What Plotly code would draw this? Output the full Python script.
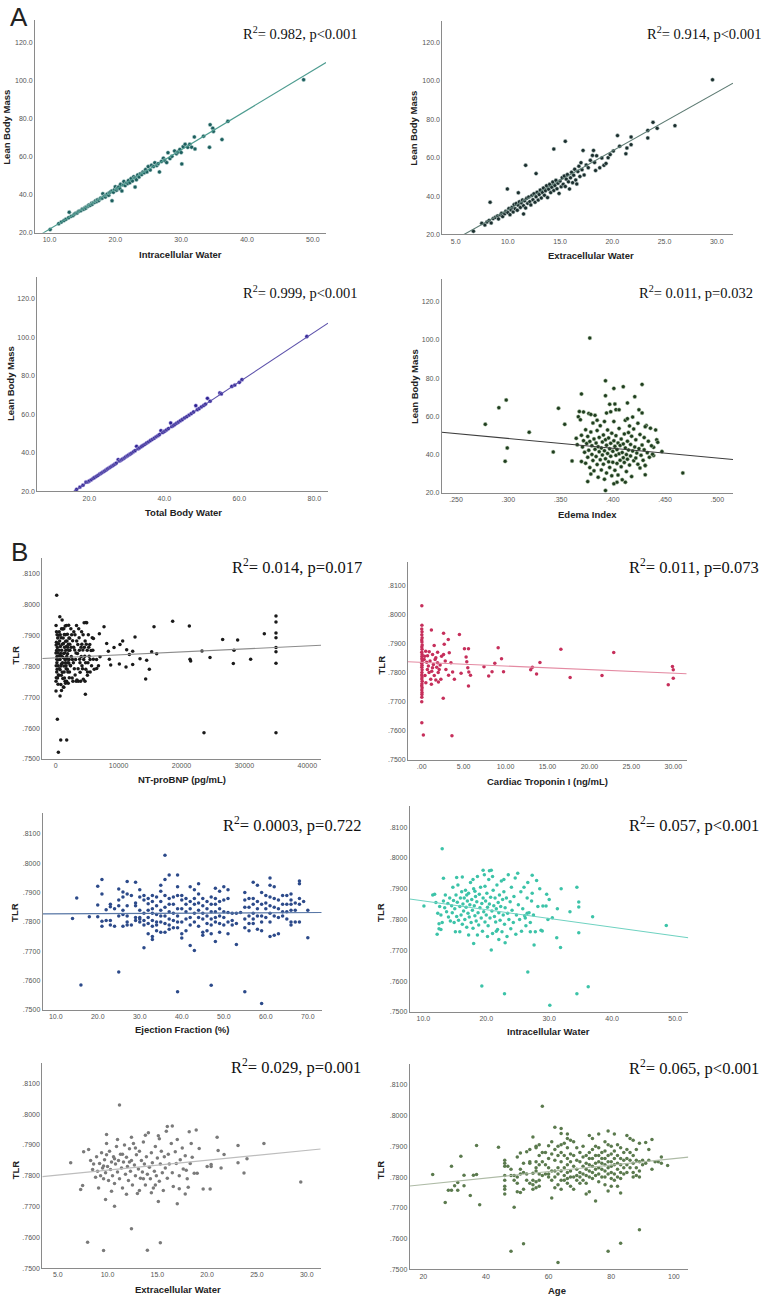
import numpy as np
import plotly.graph_objects as go

W, H = 767, 1301

# ---------------- DATA ----------------
# Panel A1: Intracellular Water vs Lean Body Mass
a1_pts = [(10.1,21.7),(11.4,24.8),(11.8,25.6),(12.2,26.4),(12.5,27.1),(12.9,27.9),(13.0,30.8),(13.3,28.7),(13.6,29.1),(13.8,29.8),
          (14.0,30.3),(14.2,30.4),(14.4,31.2),(14.6,31.5),(14.8,31.7),(15.0,32.5),(15.2,32.4),(15.4,33.3),(15.5,32.9),(15.7,33.8),
          (15.9,34.0),(16.0,34.6),(16.2,34.4),(16.4,35.5),(16.5,35.0),(16.7,35.9),(16.9,36.0),(17.0,36.8),(17.2,36.5),(17.3,37.4),
          (17.5,37.0),(17.7,37.9),(17.8,38.3),(18.0,38.2),(18.1,40.5),(18.3,39.1),(18.5,38.8),(18.6,39.9),(18.8,40.4),(19.0,39.7),
          (19.1,41.0),(19.3,41.5),(19.5,36.8),(19.5,42.0),(19.7,41.3),(19.9,42.8),(20.0,44.2),(20.2,42.4),(20.3,43.4),(20.5,44.0),
          (20.7,43.1),(20.8,45.5),(21.0,42.0),(21.2,45.1),(21.3,47.0),(21.5,44.8),(21.7,46.2),(21.9,45.9),(22.0,47.5),(22.2,46.3),
          (22.4,48.5),(22.6,47.2),(22.8,49.5),(23.0,44.0),(23.0,48.8),(23.2,47.9),(23.4,50.4),(23.6,49.3),(23.8,51.0),(24.0,50.6),
          (24.2,52.0),(24.4,51.5),(24.6,53.2),(24.8,52.0),(25.0,54.8),(25.3,53.0),(25.5,55.5),(25.8,54.8),(26.0,56.8),(26.3,55.4),
          (26.5,56.3),(26.7,52.0),(27.0,57.5),(27.3,59.2),(27.5,58.0),(27.8,56.9),(28.0,62.1),(28.3,59.0),(28.6,60.2),(29.0,63.0),
          (29.3,61.5),(29.5,62.4),(29.8,63.8),(30.0,62.2),(30.1,56.2),(30.3,65.2),(30.6,66.6),(31.0,64.9),(31.3,66.5),(31.6,65.0),
          (32.0,70.4),(32.1,64.1),(33.4,70.8),(34.3,64.9),(34.4,76.8),(34.8,75.0),(34.9,73.3),(36.2,69.0),(37.1,78.6),(48.6,100.5)]
a1_fit = (1.02, 2.086)   # intercept, slope

# Panel A2: Extracellular Water vs Lean Body Mass
a2_pts = [(6.7,21.7),(7.5,25.8),(7.8,24.9),(8.0,26.5),(8.2,27.3),(8.3,36.8),(8.4,26.0),(8.6,28.3),(8.8,28.9),(9.0,29.6),
          (9.1,28.1),(9.3,30.2),(9.4,31.0),(9.5,29.3),(9.7,30.8),(9.8,32.1),(9.95,43.7),(10.0,31.4),(10.1,33.5),(10.2,30.3),
          (10.3,32.8),(10.4,34.2),(10.5,31.7),(10.6,35.6),(10.7,33.4),(10.8,36.1),(10.9,32.6),(11.0,41.7),(11.0,35.2),(11.1,37.0),
          (11.2,34.1),(11.3,36.4),(11.4,38.0),(11.5,30.7),(11.5,35.0),(11.6,37.5),(11.7,56.0),(11.7,33.8),(11.8,38.8),(11.9,36.2),
          (12.0,39.5),(12.1,37.1),(12.2,35.4),(12.3,40.3),(12.4,38.1),(12.5,41.2),(12.6,36.8),(12.7,51.7),(12.7,39.6),(12.8,42.0),
          (12.9,37.9),(13.0,40.8),(13.1,43.1),(13.2,39.0),(13.3,41.9),(13.4,44.2),(13.5,40.4),(13.6,42.8),(13.7,45.4),(13.8,39.2),
          (13.9,43.6),(14.0,46.1),(14.1,41.8),(14.2,44.6),(14.3,47.3),(14.4,64.5),(14.4,42.9),(14.5,45.5),(14.6,48.2),(14.7,43.8),
          (14.8,46.7),(14.9,41.4),(15.0,47.8),(15.1,44.8),(15.2,49.6),(15.3,46.2),(15.4,50.5),(15.5,68.5),(15.5,45.0),(15.6,48.8),
          (15.7,51.2),(15.8,47.4),(15.9,43.7),(16.0,49.5),(16.1,52.4),(16.2,47.0),(16.3,50.9),(16.4,54.0),(16.5,48.4),(16.6,46.3),
          (16.7,52.8),(16.8,55.6),(16.9,50.2),(17.0,57.4),(17.1,53.7),(17.2,63.8),(17.3,51.0),(17.5,56.2),(17.7,54.8),(17.9,58.6),
          (18.1,61.2),(18.2,63.8),(18.3,57.5),(18.4,53.3),(18.5,61.0),(18.8,54.7),(19.0,59.8),(19.2,56.0),(19.4,57.0),(19.6,60.0),
          (19.8,61.6),(20.1,63.5),(20.5,71.5),(20.7,66.0),(21.3,62.0),(21.4,65.0),(21.8,70.8),(21.8,66.8),(23.4,70.3),(23.4,74.2),
          (23.9,78.4),(24.3,75.3),(26.0,76.7),(29.6,100.6)]
a2_fit = (2.25, 3.06)

# Panel A3: Total Body Water vs Lean Body Mass
a3_pts = [(16.6,20.9),(17.5,22.1),(18.3,23.1),(19.1,24.7),(19.6,24.8),(20.0,25.3),(20.5,25.9),(21.0,26.6),(21.4,27.1),(21.9,27.7),
          (22.3,28.2),(22.8,28.9),(23.2,29.4),(23.6,29.9),(24.0,30.4),(24.4,30.9),(24.8,31.5),(25.2,32.0),(25.6,32.5),(26.0,33.0),
          (26.4,33.5),(26.8,34.0),(27.2,34.6),(27.7,36.4),(28.1,35.7),(28.5,36.2),(28.9,36.7),(29.3,37.2),(29.7,37.8),(30.1,38.3),
          (30.5,38.8),(30.9,39.3),(31.3,39.8),(31.8,40.5),(32.2,41.0),(32.6,43.3),(33.0,42.0),(33.4,42.5),(33.9,43.2),(34.3,43.7),
          (34.8,44.3),(35.3,45.0),(35.8,45.6),(36.3,46.3),(36.8,46.9),(37.3,47.5),(37.8,48.2),(38.3,48.8),(38.7,49.4),(39.1,51.4),
          (39.6,50.5),(40.1,51.1),(40.6,51.8),(41.1,52.5),(41.7,55.4),(42.0,53.6),(42.4,54.1),(42.8,54.6),(43.3,55.3),(43.8,55.9),
          (44.3,56.6),(44.8,57.2),(45.4,58.0),(46.0,58.7),(46.6,59.5),(47.2,60.3),(47.8,61.1),(48.4,64.4),(48.8,62.3),(49.3,62.9),
          (49.9,63.8),(50.5,64.5),(51.0,65.2),(51.5,68.2),(52.2,66.7),(54.8,71.0),(55.2,70.5),(58.0,74.4),(58.8,75.1),(60.0,76.5),
          (60.7,77.9),(78.0,100.3)]
a3_fit = (-0.46, 1.287)

# Panel A4: Edema Index vs Lean Body Mass
a4_pts = [(.278,55.8),(.291,64.5),(.298,68.5),(.297,36.5),(.299,43.5),(.320,51.7),(.343,41.4),(.348,64.2),(.354,55.8),(.361,36.7),
          (.370,71.7),(.378,100.9),(.393,78.6),(.393,21.2),(.376,25.9),(.401,74.6),(.410,75.5),(.421,70.3),(.428,76.7),(.414,67.0),
          (.393,70.8),(.397,66.3),(.403,63.5),(.402,66.4),(.394,61.7),(.447,41.6),(.467,30.4),(.441,52.9),(.442,47.7),(.443,46.4),
          (.439,43.8),(.439,39.5),(.431,34.3),(.431,29.4),(.404,25.6),(.412,25.6),(.401,24.7),
          (.365,48.5),(.366,45.2),(.367,59.8),(.368,62.5),(.369,58.2),(.370,50.1),(.370,36.4),(.371,44.0),(.372,47.3),(.373,41.2),
          (.374,53.0),(.374,35.5),(.375,45.8),(.376,49.5),(.376,38.6),(.377,42.3),(.377,61.5),(.378,46.9),(.378,33.2),(.379,51.8),
          (.379,29.8),(.380,40.1),(.380,44.6),(.381,36.9),(.381,56.5),(.382,48.2),(.382,31.5),(.383,42.8),(.383,60.5),(.384,39.0),
          (.384,46.0),(.385,34.8),(.385,52.6),(.386,44.1),(.386,28.2),(.387,41.5),(.387,49.0),(.388,37.3),(.388,55.1),(.389,43.4),
          (.389,32.0),(.390,46.6),(.390,39.8),(.391,50.3),(.391,35.0),(.392,42.0),(.392,27.1),(.393,47.8),(.393,37.8),(.394,44.9),
          (.394,30.4),(.395,40.6),(.395,52.9),(.396,36.2),(.396,48.7),(.397,43.0),(.397,33.3),(.398,45.9),(.398,39.1),(.399,51.2),
          (.399,28.9),(.400,41.7),(.400,36.0),(.401,47.2),(.401,57.3),(.402,44.3),(.402,31.8),(.403,39.6),(.403,49.9),(.404,42.6),
          (.404,35.4),(.405,46.1),(.405,29.3),(.406,40.4),(.406,53.7),(.407,37.1),(.407,44.8),(.408,48.1),(.408,33.6),(.409,41.1),
          (.409,26.8),(.410,45.6),(.410,38.4),(.411,50.8),(.411,35.9),(.412,43.5),(.412,57.9),(.413,40.0),(.413,31.1),(.414,47.0),
          (.414,37.6),(.415,51.5),(.415,42.4),(.416,34.5),(.416,55.0),(.417,45.3),(.417,39.3),(.418,49.6),(.418,28.5),(.419,41.9),
          (.420,36.8),(.420,53.4),(.421,44.0),(.422,38.2),(.422,47.7),(.423,40.8),(.424,35.0),(.424,56.4),(.425,43.1),(.426,33.0),
          (.426,50.5),(.427,39.7),(.428,45.0),(.428,61.8),(.429,37.0),(.430,42.5),(.430,48.9),(.431,34.3),(.432,55.2),(.433,41.0),
          (.434,47.0),(.435,38.6),(.436,53.8),(.437,44.6),(.438,40.2),(.372,62.3),(.379,61.0),(.385,58.0),(.392,57.3),(.398,62.4),
          (.406,63.4),(.414,58.8),(.419,59.6),(.425,63.4),(.431,54.6)]
a4_fit = (63.82, -51.3)

# Panel B1: NT-proBNP vs TLR
b1_pts = [(60,.7932),(110,.7878),(140,.7851),(190,.7812),(230,.7791),(95,.7763),(175,.7823),(75,.7869),(55,.7752),(215,.7902),
          (340,.7843),(390,.7802),(445,.7873),(510,.7771),(560,.7912),(590,.7834),(655,.7961),(710,.7789),(745,.7864),(820,.7741),
          (860,.7893),(905,.7808),(955,.7852),(1020,.7950),(1060,.7781),(1110,.7921),(1170,.7829),(1210,.7733),(1240,.7874),(1320,.7801),
          (1360,.7903),(1390,.7762),(1440,.7843),(1510,.7931),(1560,.7812),(1590,.7881),(1660,.7792),(1710,.7864),(1730,.7752),(1810,.7823),
          (1860,.7904),(1890,.7841),(1940,.7782),(2010,.7872),(2060,.7933),(2090,.7811),(2160,.7763),(2210,.7891),(2260,.7852),(2330,.7803),
          (2410,.7922),(2480,.7832),(2620,.7762),(2690,.7883),(2810,.7812),(2880,.7912),(3020,.7853),(3090,.7772),(3230,.7843),(3310,.7932),
          (3380,.7756),(3520,.7871),(3590,.7752),(3720,.7893),(3810,.7823),(3880,.7781),(4030,.7862),(4120,.7912),(4180,.7802),(4320,.7853),
          (4390,.7758),(4520,.7941),(4620,.7833),(4680,.7882),(4790,.7791),(4930,.7941),(5010,.7852),(5130,.7812),(5190,.7902),(5320,.7833),
          (5420,.7871),(5480,.7782),(5620,.7851),(5810,.7893),(5980,.7823),
          (45,.7843),(80,.7802),(125,.7912),(165,.7782),(205,.7832),(255,.7861),(285,.7762),(320,.7892),(375,.7821),(415,.7772),
          (480,.7901),(525,.7852),(575,.7792),(625,.7882),(690,.7822),(725,.7902),(790,.7842),(835,.7801),(890,.7771),(925,.7922),
          (985,.7832),(1030,.7872),(1085,.7812),(1135,.7761),(1190,.7892),(1260,.7842),(1290,.7922),(1340,.7782),(1410,.7862),(1470,.7822),
          (1490,.7752),(1540,.7902),(1610,.7852),(1640,.7802),(1690,.7932),(1760,.7832),(1790,.7882),(1840,.7791),(1910,.7862),(1960,.7812),
          (1990,.7745),(2040,.7852),(2110,.7892),(2140,.7822),(2190,.7782),(2240,.7872),(2360,.7802),(2460,.7862),(2540,.7902),(2660,.7822),
          (2740,.7752),(2860,.7862),(2960,.7792),(3060,.7902),(3160,.7822),(3260,.7752),(3340,.7882),(3460,.7842),(3560,.7792),(3660,.7922),
          (3760,.7852),(3860,.7812),(3960,.7752),(4060,.7832),(4160,.7872),(4260,.7792),(4360,.7902),(4460,.7822),(4560,.7862),(4660,.7752),
          (4760,.7812),(4860,.7872),(5060,.7782),(5260,.7862),(5460,.7822),(5700,.7802),(5900,.7852),(6120,.7791),(6500,.7822),(6800,.7802),
          (160,.8030),(265,.7629),(800,.7561),(1750,.7561),(424,.7522),(50,.7720),(690,.7704),(4715,.7710),(920,.7722),(1290,.7732),
          (370,.7742),(1560,.7745),(6000,.7890),(6520,.7793),(5040,.7771),(4821,.7942),
          (6940,.7906),(7046,.7831),(7682,.7928),(8106,.7874),(8371,.7849),(8530,.7823),(8742,.7804),(9272,.7861),(10119,.7808),(10225,.7871),
          (10649,.7882),(11179,.7798),(11285,.7854),(11709,.7838),(12238,.7849),(12238,.7806),(12609,.7895),(13404,.7825),(14305,.7759),(14463,.7820),
          (14887,.7791),(15258,.7847),(15629,.7928),(16053,.7841),(18596,.7946),(21245,.7931),(21351,.7823),(21457,.7817),(23258,.7850),(23576,.7585),
          (24530,.7829),(26543,.7887),(28238,.7809),(28344,.7852),(28927,.7885),(30993,.7823),(33166,.7906),(35020,.7963),(35020,.7944),(35020,.7908),
          (35020,.7893),(35020,.7861),(35020,.7847),(35020,.7810),(35020,.7585)]
b1_fit = (.78274, 9.73e-8)

# Panel B2: Cardiac Troponin I vs TLR
b2_pts = [(0.02,.8030),(0.03,.7963),(0.01,.7950),(0.04,.7940),(0.02,.7930),(0.05,.7920),(0.01,.7912),(0.03,.7905),(0.06,.7895),(0.02,.7888),
          (0.04,.7880),(0.01,.7870),(0.05,.7862),(0.03,.7855),(0.02,.7848),(0.06,.7840),(0.01,.7832),(0.04,.7825),(0.02,.7818),(0.05,.7810),
          (0.03,.7800),(0.01,.7792),(0.04,.7785),(0.02,.7778),(0.06,.7770),(0.03,.7762),(0.01,.7755),(0.05,.7748),(0.02,.7740),(0.04,.7732),
          (0.03,.7725),(0.02,.7715),(0.01,.7700),(0.02,.7628),(0.2,.7586),
          (0.48,.7873),(0.36,.7856),(0.6,.7836),(0.68,.7811),(0.88,.7800),(1.16,.7946),(1.49,.7893),(1.69,.7851),(1.89,.7834),(1.29,.7817),
          (1.08,.7777),(1.16,.7760),(2.09,.7811),(2.37,.7856),(2.29,.7777),(1.69,.7775),(1.97,.7800),(2.61,.7935),(2.69,.7897),(2.61,.7862),
          (2.81,.7840),(2.57,.7712),(2.89,.7811),(3.17,.7914),(3.29,.7868),(3.49,.7834),(3.21,.7791),(3.69,.7802),(3.90,.7777),(3.61,.7583),
          (4.5,.7931),(4.7,.7798),(5.1,.7882),(5.3,.7854),(5.38,.7837),(5.58,.7882),(5.5,.7817),(5.62,.7802),(5.58,.7754),(5.82,.7791),
          (7.43,.7820),(7.99,.7788),(8.39,.7803),(8.72,.7832),(9.12,.7885),(9.52,.7848),(9.76,.7803),
          (0.3,.7845),(0.4,.7790),(0.5,.7765),(0.7,.7858),(0.8,.7823),(0.9,.7872),(1.0,.7840),(1.2,.7805),(1.3,.7862),(1.4,.7828),
          (1.5,.7790),(1.6,.7845),(1.8,.7818),(1.9,.7870),(2.0,.7768),(2.2,.7826),
          (13.0,.7810),(13.2,.7818),(13.7,.7795),(14.1,.7835),(16.6,.7880),(17.7,.7783),(21.5,.7790),(22.9,.7869),(29.4,.7758),(29.9,.7821),
          (30.0,.7810),(30.0,.7781)]
b2_fit = (.78351, -1.235e-4)

# Panel B3: Ejection Fraction vs TLR
b3_cols = {14:[.7812],15:[.7882],16:[.7585],18:[.7818],
           20:[.7922,.7818,.7858],21:[.7945,.7895,.7802,.7785],22:[.7842,.7805],23:[.7852,.7805,.7790,.7860],24:[.7845,.7785],
           25:[.7912,.7875,.7855,.7820,.7629],26:[.7902,.7885,.7840,.7825,.7785],27:[.7938,.7895,.7855,.7820,.7800,.7790],
           28:[.7890,.7790],29:[.7935,.7865,.7855,.7815,.7805],30:[.7910,.7885,.7840,.7815,.7810,.7800],
           31:[.7890,.7875,.7830,.7805,.7790,.7712],32:[.7880,.7862,.7840,.7815,.7795,.7760],
           33:[.7890,.7870,.7845,.7830,.7805,.7785,.7750,.7740],34:[.7885,.7855,.7825,.7800,.7790,.7770],
           35:[.7925,.7905,.7870,.7840,.7820,.7800,.7765],36:[.8027,.7945,.7890,.7850,.7820,.7795,.7765],
           37:[.7960,.7880,.7860,.7835,.7810,.7790,.7775],38:[.7885,.7860,.7830,.7805,.7780],
           39:[.7960,.7920,.7890,.7845,.7820,.7800,.7780,.7562],40:[.7890,.7875,.7845,.7800,.7760,.7745],
           41:[.7880,.7860,.7835,.7810,.7770],42:[.7920,.7870,.7845,.7815,.7790,.7720],
           43:[.7910,.7880,.7860,.7830,.7800,.7703],44:[.7930,.7895,.7865,.7840,.7815,.7785],
           45:[.7880,.7855,.7830,.7810,.7765,.7755],46:[.7870,.7845,.7820,.7795,.7770],
           47:[.7885,.7860,.7835,.7810,.7790,.7760,.7584],48:[.7915,.7880,.7860,.7835,.7815,.7800,.7733],
           49:[.7905,.7870,.7845,.7820,.7795,.7765],50:[.7920,.7875,.7835,.7815,.7790],51:[.7910,.7880,.7832,.7800,.7760],
           52:[.7830,.7805,.7790],53:[.7830,.7795,.7723],54:[.7832],55:[.7900,.7875,.7850,.7810,.7780,.7562],
           56:[.7880,.7850,.7820,.7795,.7770],57:[.7935,.7880,.7860,.7830,.7810,.7795],58:[.7925,.7870,.7845,.7820,.7775],
           59:[.7900,.7860,.7820,.7800,.7770,.7522],60:[.7890,.7865,.7845,.7815],61:[.7950,.7925,.7885,.7855,.7830,.7800,.7750],
           62:[.7920,.7880,.7850,.7820,.7755],63:[.7875,.7845,.7815,.7760],64:[.7890,.7860,.7835,.7820],
           65:[.7890,.7860,.7835,.7810],66:[.7895,.7875,.7860,.7840,.7800,.7790],67:[.7865,.7840,.7800],
           68:[.7940,.7930,.7880,.7860,.7800],69:[.7870],70:[.7840,.7746]}
b3_fit = (.78272, 6.6e-6)

# Panel B4: Intracellular Water vs TLR
b4_pts = [(11.5,.7880),(11.8,.7882),(12.0,.7855),(12.3,.7820),(12.6,.7842),(12.8,.7815),(13.2,.7860),(13.4,.7838),(13.5,.7880),(13.7,.7825),
          (13.9,.7852),(14.0,.7808),(14.2,.7870),(14.3,.7795),(14.5,.7845),(14.6,.7822),(14.8,.7862),(14.9,.7790),(15.0,.7835),(15.2,.7880),
          (15.3,.7810),(15.4,.7856),(15.5,.7912),(15.6,.7798),(15.8,.7842),(15.9,.7870),(16.0,.7815),(16.1,.7890),(16.2,.7785),(16.3,.7850),
          (16.4,.7828),(16.5,.7870),(16.6,.7800),(16.7,.7895),(16.8,.7840),(16.9,.7775),(17.0,.7860),(17.1,.7820),(17.2,.7885),(17.3,.7808),
          (17.4,.7848),(17.5,.7920),(17.6,.7790),(17.7,.7865),(17.8,.7830),(17.9,.7772),(18.0,.7900),(18.1,.7845),(18.2,.7812),(18.3,.7875),
          (18.4,.7795),(18.5,.7858),(18.6,.7940),(18.7,.7822),(18.8,.7782),(18.9,.7882),(19.0,.7838),(19.1,.7905),(19.2,.7805),(19.3,.7852),
          (19.4,.7762),(19.5,.7870),(19.6,.7825),(19.7,.7945),(19.8,.7792),(19.9,.7860),(20.0,.7815),(20.1,.7885),(20.2,.7840),(20.3,.7780),
          (20.4,.7930),(20.5,.7850),(20.6,.7805),(20.7,.7872),(20.8,.7960),(20.9,.7828),(21.0,.7755),(21.1,.7895),(21.2,.7845),(21.3,.7810),
          (21.4,.7870),(21.5,.7792),(21.6,.7835),(21.7,.7912),(21.8,.7768),(21.9,.7855),(22.0,.7822),(22.1,.7880),(22.2,.7798),(22.3,.7842),
          (22.4,.7925),(22.5,.7760),(22.6,.7865),(22.7,.7815),(22.8,.7890),(22.9,.7785),(23.0,.7838),(23.2,.7870),(23.3,.7745),(23.4,.7820),
          (23.5,.7945),(23.6,.7800),(23.8,.7858),(23.9,.7770),(24.0,.7905),(24.1,.7830),(24.3,.7790),(24.4,.7875),(24.6,.7935),(24.7,.7752),
          (24.8,.7815),(25.0,.7950),(25.1,.7848),(25.3,.7800),(25.5,.7890),(25.6,.7762),(25.8,.7835),(26.0,.7905),(26.1,.7812),(26.3,.7780),
          (26.5,.7870),(26.6,.7920),(26.8,.7822),(27.0,.7790),(27.2,.7860),(27.3,.7885),(27.5,.7815),(27.8,.7760),(28.2,.7842),(28.5,.7900),
          (14.7,.7905),(15.1,.7760),(16.2,.7938),(16.9,.7880),(17.9,.7930),(18.6,.7750),(19.5,.7960),(20.2,.7745),(21.0,.7940),(22.0,.7735),
          (20.5,.7958),(21.6,.7762),(23.0,.7725),(13.0,.7790),(12.8,.7768),(15.8,.7760),(17.2,.7750),(18.2,.7892),(19.8,.7908),(22.8,.7930),
          (10.1,.7844),(13.0,.8030),(12.5,.7786),(12.5,.7770),(12.2,.7752),(13.2,.7934),(15.3,.7936),(18.0,.7722),(19.3,.7584),(20.8,.7701),
          (22.9,.7559),(26.6,.7630),(27.6,.7717),(30.1,.7522),(31.8,.7709),(31.2,.7741),(31.9,.7900),(33.3,.7825),(34.4,.7905),(34.4,.7559),
          (34.7,.7857),(34.7,.7841),(34.7,.7757),(36.2,.7582),(36.9,.7809),(48.6,.7781),(29.6,.7882),(30.0,.7865),(30.5,.7806),(28.9,.7763),
          (29.0,.7844),(29.5,.7844),(27.3,.7944),(28.0,.7927),(31.3,.7835),(29.8,.7800),(28.7,.7765),(27.0,.7760),(26.2,.7805),(26.5,.7820)]
b4_fit = (.78887, -2.836e-4)

# Panel B5: Extracellular Water vs TLR
b5_pts = [(8.3,.7850),(8.5,.7820),(8.6,.7838),(8.8,.7795),(8.9,.7862),(9.0,.7815),(9.2,.7840),(9.3,.7800),(9.4,.7875),(9.5,.7825),
          (9.6,.7790),(9.7,.7852),(9.8,.7810),(9.9,.7868),(10.0,.7830),(10.1,.7785),(10.2,.7880),(10.3,.7820),(10.4,.7845),(10.5,.7800),
          (10.6,.7862),(10.7,.7775),(10.8,.7838),(10.9,.7895),(11.0,.7812),(11.1,.7850),(11.2,.7790),(11.3,.7870),(11.4,.7825),(11.5,.7760),
          (11.6,.7845),(11.7,.7900),(11.8,.7805),(11.9,.7860),(12.0,.7830),(12.1,.7785),(12.2,.7888),(12.3,.7815),(12.4,.7850),(12.5,.7770),
          (12.6,.7905),(12.7,.7835),(12.8,.7800),(12.9,.7868),(13.0,.7742),(13.1,.7822),(13.2,.7880),(13.3,.7792),(13.4,.7850),(13.5,.7812),
          (13.6,.7910),(13.7,.7838),(13.8,.7770),(13.9,.7862),(14.0,.7805),(14.1,.7940),(14.2,.7828),(14.3,.7790),(14.4,.7875),(14.5,.7842),
          (14.6,.7760),(14.7,.7815),(14.8,.7895),(14.9,.7800),(15.0,.7858),(15.1,.7930),(15.2,.7782),(15.3,.7838),(15.4,.7880),(15.5,.7810),
          (15.6,.7752),(15.7,.7862),(15.8,.7825),(15.9,.7945),(16.0,.7792),(16.1,.7870),(16.2,.7838),(16.4,.7905),(16.5,.7810),(16.6,.7765),
          (16.8,.7878),(16.9,.7840),(17.0,.7918),(17.2,.7800),(17.3,.7852),(17.5,.7890),(17.6,.7822),(17.8,.7865),(18.0,.7790),(18.3,.7840),
          (9.1,.7760),(9.9,.7905),(10.4,.7750),(11.0,.7918),(11.9,.7740),(12.4,.7925),(13.2,.7752),(13.8,.7932),(14.4,.7745),(15.2,.7920),
          (16.0,.7960),(16.5,.7962),(17.2,.7758),(12.8,.7890),(11.5,.7870),(10.7,.7855),(9.6,.7832),(14.8,.7770),(13.6,.7790),(12.2,.7845),
          (6.3,.7842),(7.3,.7755),(7.5,.7768),(7.6,.7878),(8.0,.7584),(8.1,.7885),(9.6,.7557),(9.9,.7934),(9.8,.7723),(10.7,.7701),
          (11.2,.8030),(12.4,.7628),(14.0,.7558),(15.3,.7582),(15.1,.7716),(17.0,.7709),(17.8,.7741),(18.1,.7763),(19.2,.7889),(18.9,.7949),
          (19.6,.7757),(20.0,.7830),(20.4,.7837),(20.4,.7830),(21.0,.7925),(21.1,.7882),(21.4,.7825),(21.7,.7869),(20.3,.7757),(23.1,.7898),
          (23.1,.7842),(23.7,.7809),(24.0,.7855),(25.7,.7905),(29.4,.7780),(18.2,.7943),(18.5,.7860),(18.7,.7808),(19.0,.7808),(17.9,.7818),
          (18.4,.7905)]
b5_fit = (.77863, 3.206e-4)

# Panel B6: Age vs TLR
b6_cols = {23:[.7808],27:[.7717],28:[.7757],29:[.7835,.7757],30:[.7772],31:[.7782,.7757],32:[.7868],33:[.7806,.7772],35:[.7740],
           36:[.7806],37:[.7903,.7808],38:[.7710],44:[.7897],
           46:[.7855,.7845,.7835,.7805,.7790,.7770,.7760,.7745],47:[.7835],48:[.7825,.7805,.7559],49:[.7805,.7790,.7702],
           50:[.7865,.7800,.7780,.7752],51:[.7878,.7825,.7810,.7750],52:[.7845,.7815,.7760,.7583],53:[.7882,.7810,.7790],
           54:[.7890,.7850,.7845,.7780],55:[.7930,.7812,.7790,.7775,.7760],56:[.7895,.7900,.7850,.7830,.7820,.7785,.7765],
           57:[.7905,.7870,.7840,.7810,.7790,.7770],58:[.8030,.7880,.7850,.7805],59:[.7880,.7840,.7810],
           60:[.7902,.7860,.7830,.7810,.7800],61:[.7915,.7875,.7820,.7790,.7732],62:[.7962,.7890,.7855,.7820,.7800,.7765],
           63:[.7900,.7870,.7830,.7810,.7775,.7522],64:[.7958,.7942,.7905,.7880,.7850,.7820,.7790,.7760],
           65:[.7910,.7870,.7830,.7805,.7790],66:[.7940,.7925,.7895,.7860,.7840,.7815,.7795,.7780],
           67:[.7920,.7875,.7850,.7820,.7800,.7770],68:[.7915,.7870,.7835,.7800,.7760],69:[.7895,.7855,.7825,.7805,.7790],
           70:[.7880,.7850,.7815,.7800,.7780],71:[.7900,.7865,.7835,.7810,.7790],72:[.7870,.7845,.7825,.7805,.7780,.7745],
           73:[.7935,.7880,.7860,.7840,.7820,.7800,.7752],74:[.7925,.7890,.7860,.7835,.7815,.7795],
           75:[.7900,.7870,.7845,.7825,.7805,.7722],76:[.7940,.7895,.7870,.7850,.7830,.7810,.7785],
           77:[.7880,.7860,.7845,.7825,.7800],78:[.7915,.7885,.7860,.7840,.7820,.7800,.7775],
           79:[.7950,.7905,.7870,.7850,.7830,.7810,.7755,.7559],80:[.7900,.7875,.7850,.7835,.7815,.7795,.7770],
           81:[.7940,.7885,.7860,.7840,.7810,.7790],82:[.7905,.7870,.7845,.7825,.7800,.7770],
           83:[.7895,.7860,.7840,.7815,.7795,.7748,.7585],84:[.7880,.7855,.7830,.7810],85:[.7935,.7890,.7860,.7840,.7815],
           86:[.7925,.7880,.7855,.7830],87:[.7920,.7870,.7845,.7815,.7800],88:[.7890,.7855,.7830,.7805],
           89:[.7910,.7850,.7820,.7800,.7629],90:[.7855,.7840],91:[.7912,.7845],92:[.7890,.7855],93:[.7922,.7825],
           94:[.7850],95:[.7850],96:[.7865,.7845],98:[.7838]}
b6_fit = (.77544, 1.057e-4)

# ---------------- TICKS / LABELS ----------------
a_y_ticks = [20, 40, 60, 80, 100, 120]
a_y_text = ["20.0", "40.0", "60.0", "80.0", "100.0", "120.0"]
a1_x_ticks = [10, 20, 30, 40, 50]; a1_x_text = ["10.0", "20.0", "30.0", "40.0", "50.0"]
a2_x_ticks = [5, 10, 15, 20, 25, 30]; a2_x_text = ["5.0", "10.0", "15.0", "20.0", "25.0", "30.0"]
a3_x_ticks = [20, 40, 60, 80]; a3_x_text = ["20.0", "40.0", "60.0", "80.0"]
a4_x_ticks = [.25, .30, .35, .40, .45, .50]; a4_x_text = [".250", ".300", ".350", ".400", ".450", ".500"]
b_y_ticks = [.75, .76, .77, .78, .79, .80, .81]
b_y_text = [".7500", ".7600", ".7700", ".7800", ".7900", ".8000", ".8100"]
b1_x_ticks = [0, 10000, 20000, 30000, 40000]; b1_x_text = ["0", "10000", "20000", "30000", "40000"]
b2_x_ticks = [0, 5, 10, 15, 20, 25, 30]; b2_x_text = [".00", "5.00", "10.00", "15.00", "20.00", "25.00", "30.00"]
b3_x_ticks = [10, 20, 30, 40, 50, 60, 70]; b3_x_text = ["10.0", "20.0", "30.0", "40.0", "50.0", "60.0", "70.0"]
b4_x_ticks = [10, 20, 30, 40, 50]; b4_x_text = ["10.0", "20.0", "30.0", "40.0", "50.0"]
b5_x_ticks = [5, 10, 15, 20, 25, 30]; b5_x_text = ["5.0", "10.0", "15.0", "20.0", "25.0", "30.0"]
b6_x_ticks = [20, 40, 60, 80, 100]; b6_x_text = ["20", "40", "60", "80", "100"]

stats = ["R<sup>2</sup>= 0.982, p<0.001", "R<sup>2</sup>= 0.914, p<0.001", "R<sup>2</sup>= 0.999, p<0.001",
         "R<sup>2</sup>= 0.011, p=0.032", "R<sup>2</sup>= 0.014, p=0.017", "R<sup>2</sup>= 0.011, p=0.073",
         "R<sup>2</sup>= 0.0003, p=0.722", "R<sup>2</sup>= 0.057, p<0.001", "R<sup>2</sup>= 0.029, p=0.001",
         "R<sup>2</sup>= 0.065, p<0.001"]
x_titles = ["Intracellular Water", "Extracellular Water", "Total Body Water", "Edema Index", "NT-proBNP (pg/mL)",
            "Cardiac Troponin I (ng/mL)", "Ejection Fraction (%)", "Intracellular Water", "Extracellular Water", "Age"]
y_titles = ["Lean Body Mass"] * 4 + ["TLR"] * 6


def cols_to_pts(cols):
    return [(k, v) for k, vs in cols.items() for v in vs]


# layout geometry (pixels): plot box, axis ranges, label positions, styling
panels = [
    dict(pts=a1_pts, fit=a1_fit, box=(35, 326, 20, 233.3), xr=(7.8, 52.0), yr=(20, 131.9),
         xt=(a1_x_ticks, a1_x_text), yt=(a_y_ticks, a_y_text), stat=(359, 33, 14.5),
         xtl=(180, 255), ytl=(7, 128), mc="#1d5e5e", ml="#cfe6e2", lc="#4e9c90", ms=4.0),
    dict(pts=a2_pts, fit=a2_fit, box=(442.3, 733, 20.7, 235), xr=(3.72, 31.56), yr=(20, 131.4),
         xt=(a2_x_ticks, a2_x_text), yt=(a_y_ticks, a_y_text), stat=(763, 33, 14.5),
         xtl=(591, 256), ytl=(414, 128), mc="#1b2e2e", ml="#d4e2de", lc="#5d7b73", ms=4.0),
    dict(pts=a3_pts, fit=a3_fit, box=(37.3, 328, 278, 492.3), xr=(6.13, 83.65), yr=(20, 131.0),
         xt=(a3_x_ticks, a3_x_text), yt=(a_y_ticks, a_y_text), stat=(359, 293, 14.5),
         xtl=(183, 514), ytl=(10, 385), mc="#2c2090", ml="#c6bdf0", lc="#5b50aa", ms=3.8),
    dict(pts=a4_pts, fit=a4_fit, box=(441.7, 733, 280, 494), xr=(.2363, .515), yr=(20, 131.6),
         xt=(a4_x_ticks, a4_x_text), yt=(a_y_ticks, a_y_text), stat=(755, 293, 14.5),
         xtl=(587, 516), ytl=(414, 387), mc="#1f3d1f", ml="#cfe0c6", lc="#3d3d3d", ms=4.0),
    dict(pts=b1_pts, fit=b1_fit, box=(42.3, 321, 559, 760.7), xr=(-2130, 42178), yr=(.75, .8152),
         xt=(b1_x_ticks, b1_x_text), yt=(b_y_ticks, b_y_text), stat=(364, 568, 16.5),
         xtl=(182, 781), ytl=(15, 657), mc="#1a1a1a", ml="#ffffff", lc="#8c8c8c", ms=3.5),
    dict(pts=b2_pts, fit=b2_fit, box=(408, 686.7, 563, 761.7), xr=(-1.63, 31.6), yr=(.75, .8181),
         xt=(b2_x_ticks, b2_x_text), yt=(b_y_ticks, b_y_text), stat=(761, 568, 16.5),
         xtl=(547, 783), ytl=(381, 667), mc="#c62f5b", ml="#ffffff", lc="#e48aa2", ms=3.5),
    dict(pts=cols_to_pts(b3_cols), fit=b3_fit, box=(42.7, 321.7, 815, 1012.3), xr=(6.9, 73.3), yr=(.75, .8171),
         xt=(b3_x_ticks, b3_x_text), yt=(b_y_ticks, b_y_text), stat=(364, 826, 16.5),
         xtl=(182, 1032), ytl=(15, 915), mc="#2c4a8a", ml="#ffffff", lc="#5877a6", ms=3.5),
    dict(pts=b4_pts, fit=b4_fit, box=(409.7, 688.3, 808, 1014.3), xr=(7.84, 52.1), yr=(.75, .8168),
         xt=(b4_x_ticks, b4_x_text), yt=(b_y_ticks, b_y_text), stat=(761, 826, 16.5),
         xtl=(548, 1034), ytl=(381, 915), mc="#3cc3a8", ml="#ffffff", lc="#6fd2c1", ms=3.5),
    dict(pts=b5_pts, fit=b5_fit, box=(42.3, 320.7, 1065, 1271), xr=(3.45, 31.4), yr=(.75, .8168),
         xt=(b5_x_ticks, b5_x_text), yt=(b_y_ticks, b_y_text), stat=(363, 1069, 16.5),
         xtl=(178, 1292), ytl=(15, 1173), mc="#7a7a7a", ml="#ffffff", lc="#bdbdbd", ms=3.5),
    dict(pts=cols_to_pts(b6_cols), fit=b6_fit, box=(409.7, 688.3, 1066, 1272.3), xr=(15.66, 104.6), yr=(.75, .8169),
         xt=(b6_x_ticks, b6_x_text), yt=(b_y_ticks, b_y_text), stat=(761, 1070, 16.5),
         xtl=(557, 1293), ytl=(380, 1173), mc="#5b7a4e", ml="#ffffff", lc="#aebba6", ms=3.5),
]

fig = go.Figure()
annotations = []
layout_axes = {}
TICKFONT = dict(family="Liberation Sans, Arial", size=7, color="#555555")

for i, p in enumerate(panels, start=1):
    xs = [q[0] for q in p["pts"]]
    ys = [q[1] for q in p["pts"]]
    xa = "x" if i == 1 else f"x{i}"
    ya = "y" if i == 1 else f"y{i}"
    fig.add_trace(go.Scatter(x=xs, y=ys, mode="markers", xaxis=xa, yaxis=ya,
                             marker=dict(size=p["ms"], color=p["mc"],
                                         line=dict(width=0.5 if i <= 4 else 0, color=p["ml"])),
                             hoverinfo="skip", showlegend=False))
    lx = np.array(p["xr"], dtype=float)
    ly = p["fit"][0] + p["fit"][1] * lx
    fig.add_trace(go.Scatter(x=lx, y=ly, mode="lines", xaxis=xa, yaxis=ya,
                             line=dict(color=p["lc"], width=1.1), hoverinfo="skip", showlegend=False))
    L, R, T, B = p["box"]
    axcommon = dict(showline=True, linecolor="#8a8a8a", linewidth=1, showgrid=False, zeroline=False,
                    ticks="", tickfont=TICKFONT, fixedrange=True)
    layout_axes["xaxis" if i == 1 else f"xaxis{i}"] = dict(
        domain=[L / W, R / W], anchor=ya, range=list(p["xr"]),
        tickmode="array", tickvals=p["xt"][0], ticktext=p["xt"][1], **axcommon)
    layout_axes["yaxis" if i == 1 else f"yaxis{i}"] = dict(
        domain=[1 - B / H, 1 - T / H], anchor=xa, range=list(p["yr"]),
        tickmode="array", tickvals=p["yt"][0], ticktext=p["yt"][1], **axcommon)
    sx, sy, ss = p["stat"]
    annotations.append(dict(text=stats[i - 1], x=sx / W, y=1 - sy / H, xref="paper", yref="paper",
                            xanchor="right", yanchor="middle", showarrow=False,
                            font=dict(family="Liberation Serif, Times New Roman", size=ss, color="#111111")))
    tx, ty = p["xtl"]
    annotations.append(dict(text=f"<b>{x_titles[i - 1]}</b>", x=tx / W, y=1 - ty / H, xref="paper", yref="paper",
                            xanchor="center", yanchor="middle", showarrow=False,
                            font=dict(family="Liberation Sans, Arial", size=9.5, color="#222222")))
    yx, yy = p["ytl"]
    annotations.append(dict(text=f"<b>{y_titles[i - 1]}</b>", x=yx / W, y=1 - yy / H, xref="paper", yref="paper",
                            xanchor="center", yanchor="middle", textangle=-90, showarrow=False,
                            font=dict(family="Liberation Sans, Arial", size=9.5, color="#222222")))

for lab, (lx_, ly_) in [("A", (19, 17)), ("B", (19, 553))]:
    annotations.append(dict(text=lab, x=lx_ / W, y=1 - ly_ / H, xref="paper", yref="paper",
                            xanchor="center", yanchor="middle", showarrow=False,
                            font=dict(family="Liberation Sans, Arial", size=26, color="#222222")))

fig.update_layout(width=W, height=H, margin=dict(l=0, r=0, t=0, b=0),
                  paper_bgcolor="white", plot_bgcolor="white", showlegend=False,
                  annotations=annotations, **layout_axes)

fig.write_html("out.html")
